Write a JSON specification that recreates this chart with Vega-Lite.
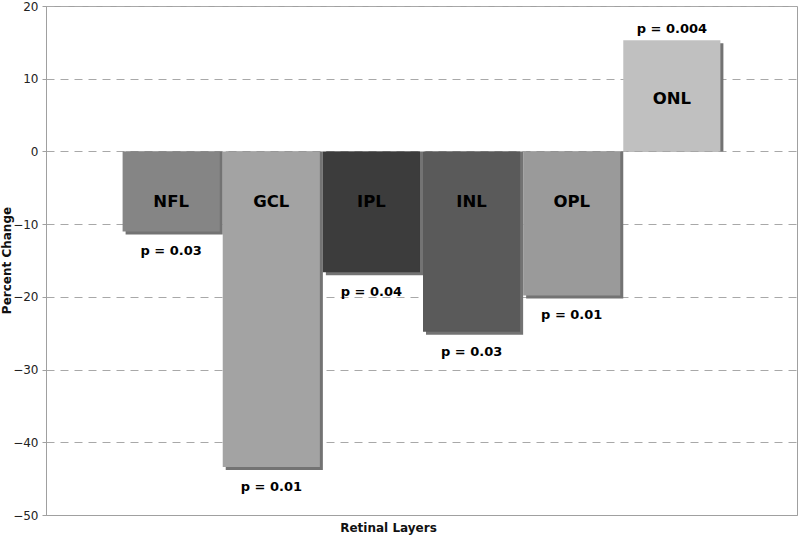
{
  "$schema": "https://vega.github.io/schema/vega-lite/v6.json",
  "width": 751,
  "height": 509,
  "autosize": {"type": "none"},
  "padding": {"left": 46, "top": 6, "right": 3, "bottom": 21},
  "background": "white",
  "config": {
    "font": "DejaVu Sans",
    "view": {"stroke": "#a0a0a0", "strokeWidth": 1}
  },
  "data": {
    "values": [
      {"layer": "NFL", "change": -11.0, "p": "p = 0.03"},
      {"layer": "GCL", "change": -43.4, "p": "p = 0.01"},
      {"layer": "IPL", "change": -16.6, "p": "p = 0.04"},
      {"layer": "INL", "change": -24.8, "p": "p = 0.03"},
      {"layer": "OPL", "change": -19.8, "p": "p = 0.01"},
      {"layer": "ONL", "change": 15.3, "p": "p = 0.004"}
    ]
  },
  "encoding": {
    "x": {
      "field": "layer",
      "type": "nominal",
      "sort": null,
      "scale": {"paddingInner": 0, "paddingOuter": 0.75},
      "axis": {
        "title": "Retinal Layers",
        "labels": false,
        "ticks": false,
        "domainColor": "#a0a0a0",
        "titleFont": "DejaVu Sans",
        "titleFontSize": 12,
        "titleFontWeight": "bold",
        "titleColor": "#111",
        "titlePadding": 7,
        "titleX": 342
      }
    }
  },
  "layer": [
    {
      "mark": {"type": "bar", "color": "#737373", "xOffset": 3, "yOffset": 3, "width": {"band": 0.97}},
      "encoding": {
        "y": {
          "field": "change",
          "type": "quantitative",
          "scale": {"domain": [-50, 20], "nice": false},
          "axis": {
            "title": "Percent Change",
            "values": [-50, -40, -30, -20, -10, 0, 10, 20],
            "grid": true,
            "gridDash": [8, 6],
            "gridColor": "#a8a8a8",
            "gridWidth": 1,
            "domainColor": "#a0a0a0",
            "tickColor": "#a0a0a0",
            "tickSize": 4,
            "labelFont": "DejaVu Sans",
            "labelFontSize": 12,
            "labelColor": "#222",
            "labelPadding": 4,
            "titleFont": "DejaVu Sans",
            "titleFontSize": 12,
            "titleFontWeight": "bold",
            "titleColor": "#111",
            "titleX": -33,
            "titleY": 254,
            "titleAngle": -90,
            "titleAlign": "center",
            "titleBaseline": "bottom"
          }
        },
        "y2": {"datum": 0}
      }
    },
    {
      "mark": {"type": "bar", "width": {"band": 0.97}},
      "encoding": {
        "y": {"field": "change", "type": "quantitative"},
        "y2": {"datum": 0},
        "color": {
          "field": "layer",
          "type": "nominal",
          "scale": {
            "domain": ["NFL", "GCL", "IPL", "INL", "OPL", "ONL"],
            "range": ["#858585", "#a3a3a3", "#3c3c3c", "#5a5a5a", "#9a9a9a", "#c0c0c0"]
          },
          "legend": null
        }
      }
    },
    {
      "transform": [{"filter": "datum.change < 0"}],
      "mark": {"type": "text", "font": "DejaVu Sans", "fontSize": 16.5, "fontWeight": "bold", "color": "#000"},
      "encoding": {
        "y": {"datum": -7},
        "text": {"field": "layer"}
      }
    },
    {
      "transform": [{"filter": "datum.change > 0"}],
      "mark": {"type": "text", "font": "DejaVu Sans", "fontSize": 16.5, "fontWeight": "bold", "color": "#000"},
      "encoding": {
        "y": {"datum": 7.2},
        "text": {"field": "layer"}
      }
    },
    {
      "transform": [{"filter": "datum.change < 0"}],
      "mark": {"type": "text", "font": "DejaVu Sans", "fontSize": 13, "fontWeight": "bold", "color": "#000", "baseline": "top", "dy": 14},
      "encoding": {
        "y": {"field": "change", "type": "quantitative"},
        "text": {"field": "p"}
      }
    },
    {
      "transform": [{"filter": "datum.change > 0"}],
      "mark": {"type": "text", "font": "DejaVu Sans", "fontSize": 13, "fontWeight": "bold", "color": "#000", "baseline": "bottom", "dy": -4},
      "encoding": {
        "y": {"field": "change", "type": "quantitative"},
        "text": {"field": "p"}
      }
    }
  ]
}
